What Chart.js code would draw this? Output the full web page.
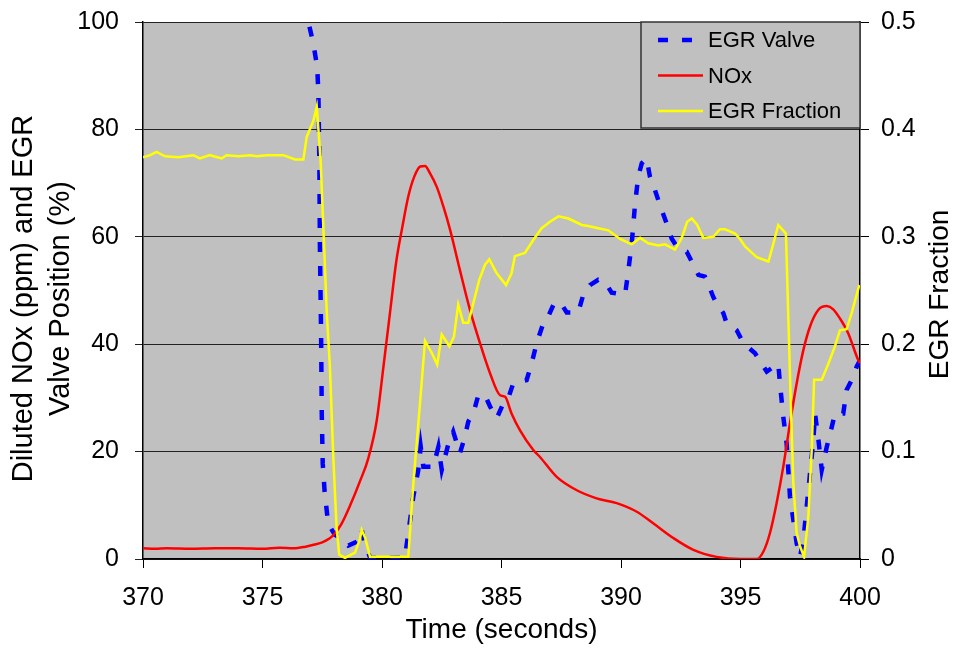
<!DOCTYPE html>
<html>
<head>
<meta charset="utf-8">
<title>EGR Valve, NOx and EGR Fraction</title>
<script src="https://cdn.jsdelivr.net/npm/chart.js@4.4.0/dist/chart.umd.min.js"></script>
<style>
  html, body { margin: 0; padding: 0; background: #fff; }
</style>
</head>
<body>
<canvas id="egrChart" width="959" height="649"></canvas>
<script>
// --- Data (time in seconds) ---
const valveTime = [376.8, 376.92, 377.13, 377.29, 377.34, 377.38, 377.4, 377.45, 377.48, 377.52, 377.6, 377.75,
    378.03, 378.31, 378.59, 378.94, 379.15, 379.29, 379.5, 380.0, 380.96, 381.31, 381.52, 381.62, 381.73,
    382.15, 382.36, 382.5, 382.78, 382.98, 383.26, 383.47, 383.61, 383.82, 384.03, 384.31, 384.52, 384.8,
    385.08, 385.28, 385.49, 386.05, 386.26, 386.47, 386.75, 386.89, 387.17, 387.45, 387.73, 388.21, 388.42,
    388.7, 389.05, 389.33, 389.61, 390.17, 390.31, 390.45, 390.59, 390.72, 390.87, 391.07, 391.21, 391.42,
    391.7, 391.91, 392.12, 392.4, 392.75, 392.96, 393.24, 393.51, 393.72, 393.86, 394.0, 394.28, 394.42,
    394.63, 394.84, 395.12, 395.61, 396.1, 396.58, 396.65, 396.79, 396.93, 397.0, 397.07, 397.21, 397.35,
    397.49, 397.63, 397.77, 397.91, 398.05, 398.12, 398.26, 398.4, 398.61, 398.82, 398.95, 399.3, 399.44,
    399.65, 399.86, 400.0];
const valvePct = [108, 100, 95.9, 91.6, 86.6, 73.6, 59, 42.5, 27, 17.8, 12.5, 6.5,
    4.5, 3.8, 2.5, 3.2, 5.5, 2.5, 0.3, 0.2, 0.3, 11.6, 16.6, 20.9, 17.2,
    17.2, 20.9, 16.6, 21.5, 23.7, 19.7, 22.8, 25.6, 27.1, 30.5, 30.5, 28.4, 26.2,
    29.0, 29.9, 32.7, 33.3, 36.4, 40.2, 43.9, 44.5, 47.3, 47.9, 45.9, 45.9, 49.2,
    51.0, 52.0, 51.6, 49.6, 49.2, 53.8, 58.8, 66.2, 71.2, 73.7, 74.6, 71.2, 68.7,
    65.0, 62.5, 59.7, 57.7, 57.2, 55.4, 52.9, 52.6, 50.4, 48.8, 47.6, 45.8, 43.9,
    43.3, 42.6, 40.2, 38.3, 34.9, 36.4, 32.7, 26.5, 21.5, 16.6, 11.6, 7.3, 2.9,
    0.4, 3.5, 9.7, 16.0, 22.2, 27.1, 22.2, 16.6, 20.9, 24.6, 27.1, 27.1, 31.5,
    33.3, 35.8, 37.0];

const noxTime = [370.0, 370.5, 371.0, 372.0, 373.0, 374.0, 375.0, 375.7, 376.3, 376.8, 377.1, 377.5, 377.8,
    378.0, 378.3, 378.66, 379.08, 379.43, 379.78, 380.06, 380.33, 380.6, 380.85, 381.1, 381.35, 381.6,
    381.8, 382.0, 382.3, 382.57, 382.85, 383.26, 383.68, 384.1, 384.52, 384.94, 385.15, 385.42, 385.77,
    386.33, 386.61, 387.31, 388.15, 388.98, 389.82, 390.66, 391.36, 392.19, 393.03, 394.0, 395.0, 395.68,
    395.96, 396.23, 396.51, 396.79, 397.07, 397.35, 397.63, 397.91, 398.26, 398.61, 398.88, 399.16, 399.51,
    399.93, 400.0];
const noxPpm = [2.0, 1.9, 2.0, 1.9, 2.0, 2.0, 1.9, 2.1, 2.0, 2.3, 2.6, 3.1, 3.8,
    4.6, 6.5, 9.9, 14.5, 18.8, 25.8, 35.8, 45.7, 55.5, 61.8, 67.5, 71.2, 73.1,
    73.2, 71.9, 69.2, 65.6, 61.3, 53.8, 46.4, 40.2, 34.6, 30.5, 30.2, 27.1, 24.0,
    20.3, 19.0, 15.3, 12.8, 11.3, 10.4, 8.8, 6.6, 3.9, 1.7, 0.4, 0.0, 0.0,
    1.4, 4.8, 10.4, 17.2, 25.3, 32.7, 38.9, 43.3, 46.4, 47.1, 46.5, 44.8, 42.0,
    37.0, 36.5];

const fracTime = [370.0, 370.3, 370.57, 370.92, 371.48, 371.8, 372.1, 372.38, 372.8, 373.29, 373.5, 374.0,
    374.48, 374.76, 375.18, 375.87, 376.36, 376.71, 376.85, 377.13, 377.27, 377.43, 377.54, 377.69, 377.82,
    377.96, 378.1, 378.21, 378.45, 378.87, 379.08, 379.15, 379.29, 379.5, 380.5, 381.1, 381.31, 381.59,
    381.8, 382.08, 382.31, 382.5, 382.82, 383.01, 383.19, 383.4, 383.61, 383.82, 384.07, 384.31, 384.49,
    384.8, 385.19, 385.42, 385.56, 385.98, 386.33, 386.68, 387.03, 387.38, 387.8, 388.36, 388.63, 389.05,
    389.47, 389.96, 390.45, 390.8, 391.14, 391.56, 391.84, 392.26, 392.54, 392.77, 392.96, 393.19, 393.44,
    393.86, 394.14, 394.35, 394.77, 394.98, 395.19, 395.68, 396.17, 396.38, 396.58, 396.9, 397.0, 397.1,
    397.21, 397.35, 397.49, 397.66, 397.84, 397.98, 398.08, 398.4, 398.68, 398.95, 399.16, 399.44, 399.65,
    399.97];
const egrFraction = [0.374, 0.376, 0.379, 0.375, 0.374, 0.375, 0.376, 0.373, 0.376, 0.373, 0.376, 0.375,
    0.376, 0.375, 0.376, 0.376, 0.372, 0.372, 0.393, 0.408, 0.421, 0.372, 0.312, 0.229, 0.179,
    0.096, 0.029, 0.004, 0.001, 0.006, 0.019, 0.027, 0.02, 0.002, 0.002, 0.002, 0.07, 0.145,
    0.203, 0.192, 0.181, 0.209, 0.198, 0.207, 0.237, 0.22, 0.22, 0.238, 0.26, 0.274, 0.279,
    0.266, 0.255, 0.266, 0.282, 0.285, 0.297, 0.308, 0.314, 0.319, 0.317, 0.311, 0.31, 0.308,
    0.306, 0.298, 0.293, 0.299, 0.294, 0.292, 0.293, 0.288, 0.299, 0.314, 0.317, 0.311, 0.299,
    0.3, 0.307, 0.307, 0.303, 0.298, 0.291, 0.281, 0.277, 0.294, 0.311, 0.303, 0.226, 0.148,
    0.071, 0.024, 0.012, 0.002, 0.04, 0.102, 0.167, 0.167, 0.182, 0.198, 0.213, 0.214, 0.229,
    0.255];

const toPoints = (xs, ys) => xs.map((x, i) => ({ x: x, y: ys[i] }));

const FONT = '"Liberation Sans", Arial, Helvetica, sans-serif';
Chart.defaults.font.family = FONT;
Chart.defaults.color = '#000';

// grey plot area
const plotBackground = {
    id: 'plotBackground',
    beforeDraw: chart => {
        const { ctx, chartArea: a } = chart;
        ctx.save();
        ctx.fillStyle = '#c0c0c0';
        ctx.fillRect(a.left, a.top, a.right - a.left, a.bottom - a.top);
        ctx.restore();
    }
};

// Excel-like legend box in the top right corner + right axis title read bottom-to-top
const legendBox = {
    id: 'legendBox',
    afterDraw: chart => {
        const { ctx, chartArea: a } = chart;
        const w = 219, h = 106;
        const x = a.right - w, y = a.top;
        ctx.save();
        ctx.fillStyle = '#c0c0c0';
        ctx.fillRect(x, y, w, h);
        ctx.strokeStyle = '#333';
        ctx.lineWidth = 1.5;
        ctx.strokeRect(x, y, w, h);

        const entries = [chart.data.datasets[0], chart.data.datasets[1], chart.data.datasets[2]];
        entries.forEach((ds, i) => {
            const cy = y + 18 + i * 35.5;
            ctx.beginPath();
            ctx.strokeStyle = ds.borderColor;
            ctx.lineWidth = ds.legendWidth;
            ctx.setLineDash(ds.borderDash || []);
            ctx.moveTo(x + 17, cy);
            ctx.lineTo(x + 62, cy);
            ctx.stroke();
            ctx.setLineDash([]);
            ctx.fillStyle = '#000';
            ctx.font = '22px ' + FONT;
            ctx.textAlign = 'left';
            ctx.textBaseline = 'middle';
            ctx.fillText(ds.label, x + 67, cy + 1);
        });

        // right axis title
        ctx.translate(940, (a.top + a.bottom) / 2 + 4);
        ctx.rotate(-Math.PI / 2);
        ctx.font = '28px ' + FONT;
        ctx.textAlign = 'center';
        ctx.textBaseline = 'middle';
        ctx.fillText('EGR Fraction', 0, 0);
        ctx.restore();
    }
};

// fixed box sizes so the plot area lands where the reference has it
const fixVertical = width => s => {
    s.width = width;
    s.paddingTop = 0;
    s.paddingBottom = 0;
};

new Chart(document.getElementById('egrChart'), {
    type: 'line',
    data: {
        datasets: [
            {
                label: 'EGR Valve',
                data: toPoints(valveTime, valvePct),
                yAxisID: 'y',
                borderColor: '#0000ff',
                borderWidth: 4.5,
                legendWidth: 4.5,
                borderDash: [10, 14],
                tension: 0,
                pointRadius: 0,
                order: 2
            },
            {
                label: 'NOx',
                data: toPoints(noxTime, noxPpm),
                yAxisID: 'y',
                borderColor: '#ff0000',
                borderWidth: 2.5,
                legendWidth: 2.5,
                cubicInterpolationMode: 'monotone',
                pointRadius: 0,
                order: 1
            },
            {
                label: 'EGR Fraction',
                data: toPoints(fracTime, egrFraction),
                yAxisID: 'y2',
                borderColor: '#ffff00',
                borderWidth: 2.5,
                legendWidth: 2.5,
                tension: 0,
                pointRadius: 0,
                order: 0
            }
        ]
    },
    options: {
        responsive: false,
        animation: false,
        layout: { padding: { top: 22, left: 0, right: 0, bottom: 0 } },
        plugins: {
            legend: { display: false },
            tooltip: { enabled: false }
        },
        scales: {
            x: {
                type: 'linear',
                min: 370,
                max: 400,
                ticks: { stepSize: 5, font: { size: 25 }, padding: 15, maxRotation: 0 },
                grid: { drawOnChartArea: false, tickLength: 9, color: '#000' },
                border: { color: '#000', width: 1.5 },
                title: { display: true, text: 'Time (seconds)', font: { size: 28 }, padding: { top: 0, bottom: 2 } },
                afterFit: s => { s.height = 90; }
            },
            y: {
                position: 'left',
                min: 0,
                max: 100,
                ticks: { stepSize: 20, font: { size: 25 }, padding: 16 },
                grid: { color: '#222', tickLength: 8, lineWidth: 1 },
                border: { color: '#000', width: 1.5 },
                title: {
                    display: true,
                    // trailing spaces nudge the rotated title a little below the plot centre, as in the reference
                    text: ['Diluted NOx (ppm) and EGR  ', 'Valve Position (%)  '],
                    font: { size: 29, lineHeight: 1.28 },
                    padding: { top: 5, bottom: 0 }
                },
                afterFit: fixVertical(143)
            },
            y2: {
                position: 'right',
                min: 0,
                max: 0.5,
                ticks: { stepSize: 0.1, font: { size: 25 }, padding: 12 },
                grid: { drawOnChartArea: false, tickLength: 9, color: '#000' },
                border: { color: '#000', width: 1.5 },
                afterFit: fixVertical(99)
            }
        }
    },
    plugins: [plotBackground, legendBox]
});
</script>
</body>
</html>
